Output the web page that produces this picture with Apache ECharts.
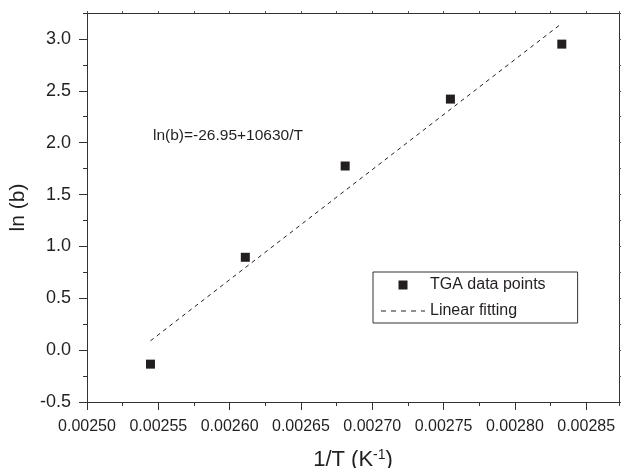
<!DOCTYPE html>
<html>
<head>
<meta charset="utf-8">
<script src="https://cdn.jsdelivr.net/npm/echarts@6/dist/echarts.min.js"></script>
<style>html,body{margin:0;padding:0;background:#fff}#c{width:624px;height:468px}</style>
</head>
<body>
<div id="c"></div>
<script>
// Data
const invT = [0.0025445, 0.002611, 0.002681, 0.0027548, 0.0028329];
const lnB = [-0.135, 0.895, 1.775, 2.42, 2.95];
const fitX = [0.0025445, 0.0028329];
const fitY = [0.09, 3.15];
const xTicks = ['0.00250','0.00255','0.00260','0.00265','0.00270','0.00275','0.00280','0.00285'];
const yTicks = ['-0.5','0.0','0.5','1.0','1.5','2.0','2.5','3.0'];
const seriesNames = ['TGA data points', 'Linear fitting'];
const equation = 'ln(b)=-26.95+10630/T';

const FONT = 'Liberation Sans';
const INK = '#231f20';
const xMin = 0.0025, xMax = 0.002873, xInt = 0.00005;
const yMin = -0.5, yMax = 3.25, yInt = 0.5;

const chart = echarts.init(document.getElementById('c'), null, {renderer: 'canvas'});

const baseLine = () => ({show: true, onZero: false, lineStyle: {color: '#333', width: 1}});
const noLine = () => ({show: false, onZero: false});
const noLabel = {show: false};
const noSplit = {show: false};

const option = {
  animation: false,
  backgroundColor: '#fff',
  textStyle: {fontFamily: FONT, color: INK},
  grid: {left: 87, right: 5, top: 13, bottom: 66, containLabel: false, outerBoundsMode: 'none'},
  xAxis: [
    {
      type: 'value', position: 'bottom', min: xMin, max: xMax, interval: xInt,
      axisLine: baseLine(),
      axisTick: {show: true, inside: false, length: 8, lineStyle: {color: '#333'}},
      axisLabel: {
        show: true, fontSize: 16, color: INK, fontFamily: FONT, margin: 17,
        showMaxLabel: false,
        formatter: v => {
          const i = Math.round((v - xMin) / xInt);
          return Math.abs(v - (xMin + i * xInt)) < 1e-9 && xTicks[i] ? xTicks[i] : '';
        }
      },
      splitLine: noSplit,
      name: '{a|1/T (K}{s|-1}{a|)}',
      nameLocation: 'middle', nameGap: 46,
      nameTextStyle: {
        rich: {
          a: {fontSize: 22, fontFamily: FONT, color: INK},
          s: {fontSize: 14, fontFamily: FONT, color: INK, verticalAlign: 'top', padding: [0, 0, 10, 0]}
        }
      }
    },
    {
      type: 'value', position: 'bottom', min: xMin, max: xMax, interval: xInt / 2,
      axisLine: noLine(),
      axisTick: {show: true, inside: false, length: 4, lineStyle: {color: '#333'}},
      axisLabel: noLabel, splitLine: noSplit
    },
    {
      type: 'value', position: 'top', min: xMin, max: xMax, interval: xInt / 2,
      axisLine: baseLine(),
      axisTick: {show: true, inside: false, length: 2, lineStyle: {color: '#555'}},
      axisLabel: noLabel, splitLine: noSplit
    }
  ],
  yAxis: [
    {
      type: 'value', position: 'left', min: yMin, max: yMax, interval: yInt,
      axisLine: baseLine(),
      axisTick: {show: true, inside: false, length: 8, lineStyle: {color: '#333'}},
      axisLabel: {
        show: true, fontSize: 18, color: INK, fontFamily: FONT, margin: 16,
        showMaxLabel: false,
        formatter: v => {
          const i = Math.round((v - yMin) / yInt);
          return Math.abs(v - (yMin + i * yInt)) < 1e-9 && yTicks[i] ? yTicks[i] : '';
        }
      },
      splitLine: noSplit,
      name: 'ln (b)', nameLocation: 'middle', nameGap: 49,
      nameTextStyle: {fontSize: 21, fontFamily: FONT, color: INK}
    },
    {
      type: 'value', position: 'left', min: yMin, max: yMax, interval: yInt / 2,
      axisLine: noLine(),
      axisTick: {show: true, inside: false, length: 4, lineStyle: {color: '#333'}},
      axisLabel: noLabel, splitLine: noSplit
    },
    {
      type: 'value', position: 'right', min: yMin, max: yMax, interval: yInt / 2,
      axisLine: baseLine(),
      axisTick: {show: true, inside: false, length: 2, lineStyle: {color: '#555'}},
      axisLabel: noLabel, splitLine: noSplit
    }
  ],
  legend: {
    orient: 'vertical', left: 373, top: 272,
    itemWidth: 44, itemHeight: 14, itemGap: 10,
    padding: [5, 32, 4, 8],
    borderColor: '#333', borderWidth: 1,
    textStyle: {fontSize: 16, fontFamily: FONT, color: INK},
    data: [
      {name: seriesNames[0], icon: 'path://M0,0L0,0M44,14L44,14M17.5,2.5h9v9h-9z', itemStyle: {color: INK, opacity: 1}},
      {name: seriesNames[1], icon: 'path://M0,0L0,0M44,14L44,14M0,6.5h5v1h-5zM10,6.5h5v1h-5zM20,6.5h5v1h-5zM30,6.5h5v1h-5zM40,6.5h4v1h-4z', itemStyle: {color: INK, opacity: 1}}
    ]
  },
  graphic: [
    {
      type: 'text', left: 153, top: 128,
      style: {text: equation, fontSize: 15.5, fontFamily: FONT, fill: INK}
    }
  ],
  series: [
    {
      name: seriesNames[0], type: 'scatter', xAxisIndex: 0, yAxisIndex: 0,
      symbol: 'rect', symbolSize: 9,
      itemStyle: {color: INK, opacity: 1},
      data: invT.map((x, i) => [x, lnB[i]]),
      z: 5
    },
    {
      name: seriesNames[1], type: 'line', xAxisIndex: 0, yAxisIndex: 0,
      symbol: 'none', showSymbol: false,
      lineStyle: {color: INK, width: 1, type: [4, 4]},
      itemStyle: {color: INK},
      data: fitX.map((x, i) => [x, fitY[i]])
    }
  ]
};
chart.setOption(option);
</script>
</body>
</html>
